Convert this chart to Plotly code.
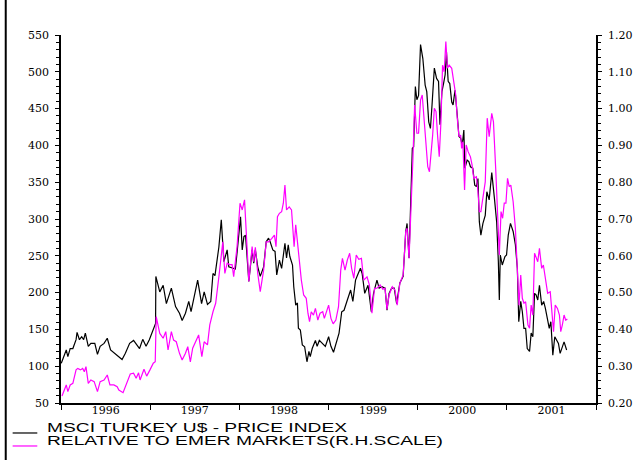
import pandas as pd
import plotly.graph_objects as go

# ---- data -----------------------------------------------------------------
SERIES_NAMES = ["MSCI TURKEY U$ - PRICE INDEX", "RELATIVE TO EMER MARKETS(R.H.SCALE)"]

# MSCI Turkey US$ price index (left scale), sampled at decimal-year dates
msci_years = [
    1996.003, 1996.033, 1996.059, 1996.077, 1996.103, 1996.133, 1996.169, 1996.180, 1996.207, 1996.232,
    1996.254, 1996.273, 1996.306, 1996.335, 1996.379, 1996.409, 1996.439, 1996.483, 1996.519, 1996.556,
    1996.593, 1996.630, 1996.649, 1996.685, 1996.722, 1996.770, 1996.814, 1996.851, 1996.881, 1996.917,
    1996.954, 1996.991, 1997.035, 1997.061, 1997.064, 1997.108, 1997.146, 1997.182, 1997.238, 1997.285,
    1997.329, 1997.359, 1997.396, 1997.433, 1997.459, 1997.495, 1997.533, 1997.577, 1997.606, 1997.643,
    1997.680, 1997.705, 1997.727, 1997.771, 1997.798, 1997.827, 1997.864, 1997.882, 1997.919, 1997.956,
    1997.978, 1998.014, 1998.033, 1998.052, 1998.070, 1998.107, 1998.144, 1998.162, 1998.180, 1998.207,
    1998.235, 1998.273, 1998.302, 1998.328, 1998.346, 1998.376, 1998.401, 1998.420, 1998.450, 1998.475,
    1998.512, 1998.530, 1998.549, 1998.567, 1998.597, 1998.611, 1998.633, 1998.652, 1998.663, 1998.685,
    1998.707, 1998.733, 1998.759, 1998.781, 1998.796, 1998.818, 1998.854, 1998.873, 1998.898, 1998.928,
    1998.965, 1999.002, 1999.028, 1999.057, 1999.094, 1999.119, 1999.149, 1999.175, 1999.212, 1999.249,
    1999.274, 1999.304, 1999.334, 1999.359, 1999.378, 1999.407, 1999.444, 1999.481, 1999.506, 1999.544,
    1999.569, 1999.599, 1999.635, 1999.657, 1999.680, 1999.709, 1999.738, 1999.765, 1999.801, 1999.838,
    1999.867, 1999.882, 1999.904, 1999.930, 1999.941, 1999.956, 1999.975, 1999.992, 2000.011, 2000.033,
    2000.059, 2000.085, 2000.103, 2000.125, 2000.144, 2000.162, 2000.188, 2000.213, 2000.235, 2000.251,
    2000.273, 2000.291, 2000.309, 2000.324, 2000.343, 2000.361, 2000.383, 2000.398, 2000.420, 2000.445,
    2000.464, 2000.483, 2000.501, 2000.519, 2000.530, 2000.556, 2000.575, 2000.593, 2000.619, 2000.641,
    2000.660, 2000.677, 2000.693, 2000.710, 2000.733, 2000.759, 2000.777, 2000.803, 2000.832, 2000.862,
    2000.887, 2000.906, 2000.917, 2000.928, 2000.950, 2000.980, 2000.998, 2001.017, 2001.042, 2001.072,
    2001.097, 2001.119, 2001.135, 2001.157, 2001.175, 2001.193, 2001.212, 2001.230, 2001.256, 2001.274,
    2001.293, 2001.312, 2001.329, 2001.348, 2001.367, 2001.392, 2001.414, 2001.433, 2001.459, 2001.477,
    2001.495, 2001.517, 2001.539, 2001.561, 2001.580, 2001.599, 2001.617, 2001.643, 2001.672,
]
msci_index = [
    104, 113, 122, 113, 124, 124, 136, 146, 136, 140,
    136, 145, 127, 131, 131, 116, 127, 131, 138, 122,
    118, 115, 112, 109, 117.5, 131, 135, 129, 124, 136.5,
    127, 136, 150, 158, 222, 201, 210, 185, 206, 181,
    172, 162, 172, 188, 174, 197, 217, 185, 201, 184,
    188, 226, 223, 262, 299, 242, 258, 235, 233, 232,
    258, 303, 258, 276, 278, 215, 258, 240, 258, 235,
    222, 235, 269, 274, 269, 258, 256, 224, 244, 233,
    267, 247, 265, 249, 237.5, 208, 183, 186, 151.5, 149,
    129, 126.5, 106, 120, 113, 124, 135, 127, 135, 132,
    127, 140, 127, 119, 133, 145, 174, 176, 190, 203.5,
    188, 217, 226, 233, 226, 199, 210, 174, 199, 217,
    206, 208, 206, 176, 199, 206, 206, 185, 213, 222,
    283, 294, 247, 346, 396, 398, 480, 462, 468, 537,
    518, 482, 473, 432, 423, 455, 505, 491, 487, 428,
    473, 484, 496, 527, 487, 484, 459, 455, 475, 441,
    412, 410, 400.5, 421, 369, 380, 378, 371, 369, 346,
    344, 355, 296, 278, 294, 305, 337, 326, 363, 328,
    296, 242, 190, 251, 237.5, 249, 251, 278, 294, 283,
    265, 233, 160.5, 188, 174, 151.5, 151.5, 124, 120, 145,
    140, 199, 197, 190, 210, 183, 188, 179, 160.5, 151.5,
    160.5, 115, 140, 136, 131, 117.5, 124, 133, 122,
]

# Relative performance vs. emerging markets (right scale)
rel_years = [
    1996.011, 1996.033, 1996.059, 1996.077, 1996.103, 1996.133, 1996.169, 1996.188, 1996.218, 1996.243,
    1996.262, 1996.280, 1996.306, 1996.335, 1996.372, 1996.409, 1996.439, 1996.483, 1996.519, 1996.549,
    1996.593, 1996.630, 1996.649, 1996.696, 1996.733, 1996.777, 1996.814, 1996.843, 1996.870, 1996.887,
    1996.931, 1996.961, 1996.998, 1997.035, 1997.057, 1997.068, 1997.108, 1997.146, 1997.175, 1997.201,
    1997.238, 1997.263, 1997.293, 1997.329, 1997.359, 1997.396, 1997.422, 1997.451, 1997.477, 1997.514,
    1997.544, 1997.580, 1997.606, 1997.643, 1997.669, 1997.705, 1997.735, 1997.771, 1997.798, 1997.815,
    1997.838, 1997.864, 1997.890, 1997.919, 1997.937, 1997.975,
    1998.008, 1998.033, 1998.059, 1998.081, 1998.107, 1998.144, 1998.162, 1998.180, 1998.207, 1998.235,
    1998.273, 1998.302, 1998.328, 1998.365, 1998.394, 1998.412, 1998.428, 1998.450, 1998.475, 1998.494,
    1998.512, 1998.530, 1998.560, 1998.586, 1998.615, 1998.633, 1998.660, 1998.677, 1998.696, 1998.722,
    1998.751, 1998.770, 1998.788, 1998.807, 1998.832, 1998.854, 1998.881, 1998.906, 1998.936, 1998.954,
    1998.972, 1999.002, 1999.028, 1999.053, 1999.083, 1999.113, 1999.138, 1999.157, 1999.186, 1999.212,
    1999.238, 1999.260, 1999.285, 1999.312, 1999.340, 1999.370, 1999.396, 1999.433, 1999.459, 1999.488,
    1999.517, 1999.544, 1999.580, 1999.610, 1999.635, 1999.657, 1999.680, 1999.716, 1999.746, 1999.771,
    1999.801, 1999.827,
    1999.838, 1999.867, 1999.882, 1999.904, 1999.930, 1999.948, 1999.967, 1999.992, 2000.011, 2000.033,
    2000.052, 2000.077, 2000.096, 2000.114, 2000.133, 2000.151, 2000.169, 2000.188, 2000.207, 2000.224,
    2000.243, 2000.262, 2000.280, 2000.298, 2000.317, 2000.335, 2000.354, 2000.383, 2000.409, 2000.428,
    2000.445, 2000.464, 2000.483, 2000.494, 2000.508, 2000.527, 2000.545, 2000.567, 2000.593, 2000.611,
    2000.630, 2000.660, 2000.677, 2000.693, 2000.710, 2000.733, 2000.759, 2000.781, 2000.803, 2000.832,
    2000.851, 2000.876, 2000.898, 2000.917, 2000.936, 2000.954, 2000.972, 2000.991, 2001.009, 2001.028,
    2001.046, 2001.072, 2001.097, 2001.119, 2001.138, 2001.157, 2001.175, 2001.193, 2001.212, 2001.238,
    2001.256, 2001.274, 2001.293, 2001.312, 2001.329, 2001.348, 2001.367, 2001.392, 2001.411, 2001.433,
    2001.459, 2001.488, 2001.506, 2001.525, 2001.544, 2001.569, 2001.591, 2001.606, 2001.624, 2001.643,
    2001.661, 2001.680,
]
rel_ratio = [
    0.219, 0.231, 0.249, 0.231, 0.249, 0.2535, 0.290, 0.294, 0.290, 0.294,
    0.285, 0.299, 0.2535, 0.2625, 0.258, 0.231, 0.258, 0.2625, 0.276, 0.249,
    0.249, 0.244, 0.235, 0.228, 0.249, 0.279, 0.281, 0.267, 0.282, 0.2625,
    0.2915, 0.273, 0.290, 0.308, 0.312, 0.4345, 0.389, 0.376, 0.394, 0.344,
    0.394, 0.371, 0.3665, 0.335, 0.317, 0.335, 0.353, 0.312, 0.349, 0.371,
    0.385, 0.326, 0.3665, 0.358, 0.412, 0.448, 0.471, 0.543, 0.611, 0.638,
    0.552, 0.580, 0.576, 0.576, 0.543, 0.625,
    0.743, 0.7245, 0.752, 0.634, 0.530, 0.625, 0.584, 0.623, 0.552, 0.5025,
    0.561, 0.638, 0.638, 0.6475, 0.6565, 0.625, 0.706, 0.7155, 0.720, 0.743,
    0.792, 0.7245, 0.733, 0.7245, 0.625, 0.684, 0.611, 0.584, 0.534, 0.4935,
    0.4845, 0.444, 0.421, 0.448, 0.439, 0.457, 0.4255, 0.444, 0.448, 0.430,
    0.444, 0.466, 0.430, 0.415, 0.4255, 0.4617, 0.561, 0.593, 0.561, 0.5886,
    0.607, 0.566, 0.539, 0.602, 0.5905, 0.593, 0.534, 0.543, 0.521, 0.444,
    0.5117, 0.512, 0.521, 0.509, 0.512, 0.4545, 0.4935, 0.516, 0.507, 0.466,
    0.525, 0.539,
    0.548, 0.6655, 0.675, 0.593, 0.738, 0.865, 1.010, 0.933, 0.933, 1.023,
    1.037, 0.964, 0.901, 0.842, 0.8285, 0.874, 0.928, 1.001, 0.992, 0.928,
    0.869, 0.964, 1.118, 1.100, 1.182, 1.1095, 1.118, 1.1095, 1.064, 1.037,
    0.974, 0.924, 0.928, 0.892, 0.910, 0.779, 0.901, 0.883, 0.869, 0.847,
    0.8105, 0.815, 0.774, 0.720, 0.720, 0.761, 0.801, 0.974, 0.924, 0.987,
    0.964, 0.838, 0.679, 0.602, 0.720, 0.702, 0.743, 0.743, 0.8105, 0.788,
    0.792, 0.747, 0.675, 0.566, 0.466, 0.548, 0.4845, 0.471, 0.475, 0.412,
    0.403, 0.466, 0.439, 0.607, 0.593, 0.584, 0.620, 0.566, 0.575, 0.539,
    0.498, 0.5025, 0.448, 0.394, 0.466, 0.457, 0.439, 0.394, 0.412, 0.439,
    0.4255, 0.428,
]

LINE_COLORS = ["#000000", "#ff00ff"]


def to_dates(years):
    base = pd.Timestamp("1996-01-01")
    return [base + pd.to_timedelta((y - 1996.0) * 365.25, unit="D") for y in years]


# ---- figure ---------------------------------------------------------------
fig = go.Figure()
fig.add_trace(go.Scatter(
    x=to_dates(msci_years), y=msci_index, name=SERIES_NAMES[0], mode="lines",
    line=dict(color=LINE_COLORS[0], width=1.2), yaxis="y",
))
fig.add_trace(go.Scatter(
    x=to_dates(rel_years), y=rel_ratio, name=SERIES_NAMES[1], mode="lines",
    line=dict(color=LINE_COLORS[1], width=1.2), yaxis="y2",
))

tick_font = dict(family="DejaVu Serif", size=11, color="#000000")
axis_common = dict(
    showgrid=False, zeroline=False, showline=True, linecolor="#000000",
    ticks="outside", tickcolor="#000000", ticklen=4, tickwidth=1.2,
    tickfont=tick_font,
)

fig.update_layout(
    width=644, height=460,
    margin=dict(l=61, r=41, t=35, b=57),
    paper_bgcolor="#ffffff", plot_bgcolor="#ffffff",
    showlegend=False,
    xaxis=dict(
        axis_common, type="date", linewidth=2,
        range=["1996-01-01", "2002-01-01"],
        tick0="1996-01-01", dtick="M12", tickformat="%Y",
        ticklabelmode="period", ticklen=5, ticklabelstandoff=-9,
    ),
    yaxis=dict(
        axis_common, linewidth=1.5, range=[50, 550], dtick=50,
        ticklabelstandoff=4,
        minor=dict(dtick=10, ticks="outside", ticklen=3, tickcolor="#000000"),
    ),
    yaxis2=dict(
        axis_common, linewidth=1.5, overlaying="y", side="right",
        range=[0.2, 1.2], dtick=0.1, tickformat=".2f",
        ticklabelstandoff=4,
        minor=dict(dtick=0.02, ticks="outside", ticklen=3, tickcolor="#000000"),
    ),
)

# outer frame line on the left edge of the page
fig.add_shape(type="line", xref="paper", yref="paper",
              x0=-0.1033, x1=-0.1033, y0=1.1, y1=-0.16,
              line=dict(color="#000000", width=2))

# legend below the plot: short line sample + series name
legend_rows = [(-0.068, -0.0815), (-0.1033, -0.1168)]
for name, color, (y_text, y_line) in zip(SERIES_NAMES, LINE_COLORS, legend_rows):
    fig.add_shape(type="line", xref="paper", yref="paper",
                  x0=-0.0904, x1=-0.0443, y0=y_line, y1=y_line,
                  line=dict(color=color, width=1.2))
    fig.add_annotation(xref="paper", yref="paper", x=-0.0295, y=y_text,
                       xanchor="left", yanchor="middle", showarrow=False,
                       text=name,
                       font=dict(family="Liberation Sans", size=12, color="#000000"))

# widen the legend labels to their printed width
post_js = """
var gd = document.getElementById('{plot_id}');
var widths = {"MSCI TURKEY U$ - PRICE INDEX": 300, "RELATIVE TO EMER MARKETS(R.H.SCALE)": 396};
gd.querySelectorAll('text.annotation-text').forEach(function (t) {
  var w = widths[t.textContent];
  if (!w) { return; }
  var before = t.getBBox();
  t.setAttribute('textLength', w);
  t.setAttribute('lengthAdjust', 'spacingAndGlyphs');
  var after = t.getBBox();
  var x = parseFloat(t.getAttribute('x') || 0);
  t.setAttribute('x', x + (before.x - after.x));
});
"""

fig.write_html("out.html", post_script=post_js)
